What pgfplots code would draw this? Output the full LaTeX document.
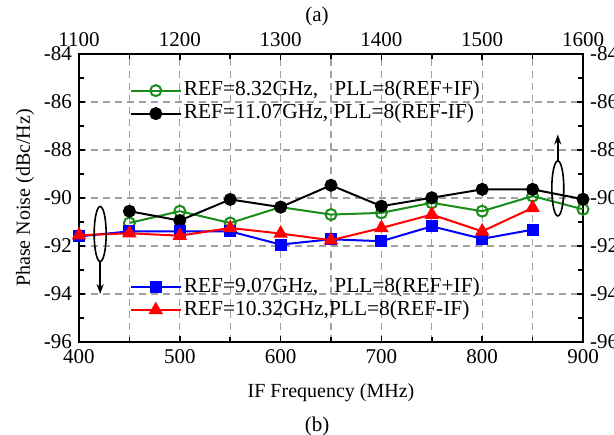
\documentclass[border=0pt]{standalone}
\usepackage{pgfplots}
\pgfplotsset{compat=1.18}
\usepackage{fontspec}
\setmainfont{Liberation Serif}
\usetikzlibrary{arrows.meta}
\definecolor{pgreen}{RGB}{25,140,25}
\definecolor{gridgray}{RGB}{160,160,160}
\newcommand{\lfont}{\fontsize{10.5}{12}\selectfont}
\newcommand{\gfont}{\fontsize{10.7}{12}\selectfont}
\newcommand{\afont}{\fontsize{11.2}{13}\selectfont}
\pgfplotsset{
  base/.style={
    width=252pt, height=144pt, scale only axis,
    xmin=400, xmax=900, ymin=-96, ymax=-84,
    /pgf/number format/assume math mode=true,
    /pgf/number format/1000 sep={},
    scaled ticks=false,
    tick label style={font=\lfont},
    label style={font=\afont},
    clip mode=individual,
  },
  myleg/.style={
    legend cell align=left,
    legend style={draw=none, fill=none, inner sep=0pt, font=\gfont,
      at={#1}, anchor=west, row sep=0.5pt,
      nodes={inner xsep=1pt, inner ysep=0.5pt, text height=7.5pt, text depth=2.5pt}},
    legend image code/.code={\draw[mark repeat=2,mark phase=2,##1] plot coordinates {(0pt,0pt) (12.5pt,0pt) (25pt,0pt)};},
  },
}
\begin{document}
\begin{tikzpicture}
\begin{axis}[base, name=ax,
  xtick={400,500,...,900}, minor x tick num=1,
  ytick={-96,-94,...,-84}, minor y tick num=1,
  xmajorgrids, xminorgrids, ymajorgrids,
  major grid style={gridgray, dash pattern=on 3.5pt off 2.5pt, line width=0.6pt},
  minor grid style={gridgray, dash pattern=on 3.5pt off 2.5pt, line width=0.6pt},
  axis line style={line width=1pt},
  major tick length=3pt, minor tick length=2.5pt,
  tick style={line width=0.8pt, black},
  xlabel={IF Frequency (MHz)}, ylabel={Phase Noise (dBc/Hz)},
  every axis x label/.style={at={(axis description cs:0.5,-0.177)}, anchor=center},
  every axis y label/.style={at={(axis description cs:-0.107,0.5)}, anchor=center, rotate=90},
  myleg={(0.1,0.833)},
]
\addplot[pgreen, line width=1pt, mark=o, mark size=2.75pt, mark options={fill=white, solid}] coordinates {
 (450,-91.04) (500,-90.55) (550,-91.04) (600,-90.38) (650,-90.69) (700,-90.62) (750,-90.20) (800,-90.55) (850,-89.92) (900,-90.47)};
\addlegendentry{REF=8.32GHz,\phantom{0} PLL=8(REF+IF)}
\addplot[black, line width=1pt, mark=*, mark size=2.75pt] coordinates {
 (450,-90.55) (500,-90.94) (550,-90.06) (600,-90.38) (650,-89.47) (700,-90.34) (750,-89.99) (800,-89.64) (850,-89.64) (900,-90.05)};
\addlegendentry{REF=11.07GHz, PLL=8(REF-IF)}
\end{axis}
\begin{axis}[base, xmin=1100, xmax=1600,
  xtick={1100,1200,...,1600}, ytick={-96,-94,...,-84},
  xticklabel pos=right, yticklabel pos=right,
  axis line style={draw=none}, major tick length=0pt, minor tick num=0,
  tick style={draw=none}]
\end{axis}
\begin{axis}[base, hide axis, myleg={(0.1,0.151)}]
\addplot[blue, line width=1pt, mark=square*, mark size=2.5pt] coordinates {
 (400,-91.60) (450,-91.39) (500,-91.39) (550,-91.39) (600,-91.94) (650,-91.72) (700,-91.80) (750,-91.18) (800,-91.70) (850,-91.32)};
\addlegendentry{REF=9.07GHz,\phantom{0} PLL=8(REF+IF)}
\addplot[red, line width=1pt, mark=triangle*, mark size=3.2pt] coordinates {
 (400,-91.55) (450,-91.47) (500,-91.57) (550,-91.25) (600,-91.48) (650,-91.76) (700,-91.25) (750,-90.69) (800,-91.39) (850,-90.41)};
\addlegendentry{REF=10.32GHz,PLL=8(REF-IF)}
\draw[line width=0.8pt] (axis cs:421,-91.5) ellipse [x radius=3pt, y radius=13.75pt];
\draw[line width=0.8pt, -{Stealth[length=5pt,width=3.5pt]}] (axis cs:421,-92.65) -- (axis cs:421,-94.0);
\draw[line width=0.8pt] (axis cs:875,-89.6) ellipse [x radius=3pt, y radius=13.75pt];
\draw[line width=0.8pt, -{Stealth[length=5pt,width=3.5pt]}] (axis cs:875,-88.45) -- (axis cs:875,-87.35);
\end{axis}
\node[font=\lfont] at ([shift={(119pt,163pt)}]ax.south west) {(a)};
\node[font=\lfont] at ([shift={(119pt,-42pt)}]ax.south west) {(b)};
\pgfresetboundingbox
\useasboundingbox ([shift={(-39.5pt,-46pt)}]ax.south west) rectangle ([shift={(267.5pt,171pt)}]ax.south west);
\end{tikzpicture}
\end{document}
